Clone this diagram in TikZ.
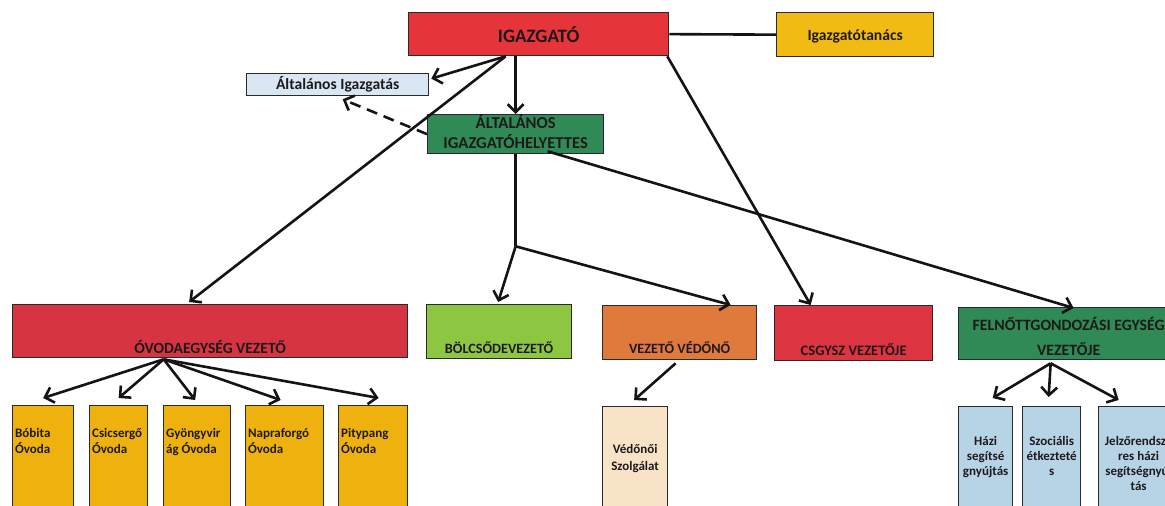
\documentclass[tikz,border=0pt]{standalone}
\usepackage{fontspec}
\setmainfont{Carlito}
\usetikzlibrary{arrows.meta,calc}
\definecolor{cRed}{HTML}{E5353A}
\definecolor{cRedB}{HTML}{D63442}
\definecolor{cRedC}{HTML}{DC3440}
\definecolor{cYel}{HTML}{F2BB14}
\definecolor{cYelB}{HTML}{EEB10E}
\definecolor{cPale}{HTML}{D9E6F4}
\definecolor{cGreen}{HTML}{2F8A55}
\definecolor{cLime}{HTML}{8DC641}
\definecolor{cOrange}{HTML}{E0793C}
\definecolor{cBeige}{HTML}{F9E3C6}
\definecolor{cBlue}{HTML}{B7D3E6}
\definecolor{cBorder}{HTML}{2A2A2A}
\definecolor{cText}{HTML}{1E1A1B}
% #1 height, #2 width, #3 top gap, #4 setup, #5 text
\newcommand\bt[5]{\parbox[c][#1pt][t]{#2pt}{\vspace*{#3pt}#4\strut #5}}
\tikzset{
  box/.style={draw=cBorder, line width=1.3pt, inner sep=0pt, anchor=north west, text=cText, font=\bfseries},
  conn/.style={line width=2.6pt, draw=black!92},
  arr/.style={conn, -{Straight Barb[length=8pt,width=16pt]}},
}
\begin{document}
\begin{tikzpicture}[x=1pt,y=-1pt]
\useasboundingbox (0,0) rectangle (1165,506);
\clip (0,0) rectangle (1165,506);
\fill[white] (0,0) rectangle (1165,506);

% top level
\node[box, fill=cRed] (ig) at (408,12) {\bt{43}{260}{14}{\centering\fontsize{19}{21.4}\selectfont}{IGAZGATÓ}};
\node[box, fill=cYel] (igt) at (776,12) {\bt{44}{157}{15}{\centering\fontsize{15.6}{18}\selectfont}{Igazgatótanács}};
\node[box, fill=cPale] (ai) at (246,73) {\bt{22}{182}{2.9}{\centering\fontsize{15.6}{18}\selectfont}{Általános Igazgatás}};
\node[box, fill=cGreen] (igh) at (427,114) {\bt{39}{176}{0}{\centering\fontsize{16.6}{20}\selectfont}{ÁLTALÁNOS\\IGAZGATÓHELYETTES}};

% second level
\node[box, fill=cRedB] (ov) at (12,304) {\bt{53}{395}{35.4}{\centering\fontsize{15.6}{18}\selectfont}{ÓVODAEGYSÉG VEZETŐ}};
\node[box, fill=cLime] (bol) at (426,304) {\bt{54}{145}{37.2}{\centering\fontsize{14.2}{17}\selectfont}{BÖLCSŐDEVEZETŐ}};
\node[box, fill=cOrange] (vv) at (602,305) {\bt{54}{154}{36.1}{\centering\fontsize{14.2}{17}\selectfont}{VEZETŐ VÉDŐNŐ}};
\node[box, fill=cRedC] (cs) at (774,305) {\bt{55}{158}{37.8}{\centering\fontsize{14.5}{17.4}\selectfont}{CSGYSZ VEZETŐJE}};
\node[box, fill=cGreen] (fel) at (958,307) {\bt{52}{220}{5}{\centering\fontsize{15.8}{25}\selectfont}{FELNŐTTGONDOZÁSI EGYSÉG\\VEZETŐJE}};

% third level
\node[box, fill=cYelB] (bob) at (12,405) {\bt{130}{61}{20.8}{\raggedright\leftskip=2.5pt\fontsize{13}{16}\selectfont}{Bóbita\\Óvoda}};
\node[box, fill=cYelB] (csi) at (89,405) {\bt{130}{58}{20.8}{\raggedright\leftskip=2.5pt\fontsize{13}{16}\selectfont}{Csicsergő\\Óvoda}};
\node[box, fill=cYelB] (gyo) at (163,405) {\bt{130}{67}{20.8}{\raggedright\leftskip=2.5pt\fontsize{13}{16}\selectfont}{Gyöngyvir\\ág Óvoda}};
\node[box, fill=cYelB] (nap) at (245,405) {\bt{130}{78}{20.8}{\raggedright\leftskip=2.5pt\fontsize{13}{16}\selectfont}{Napraforgó\\Óvoda}};
\node[box, fill=cYelB] (pit) at (338,405) {\bt{130}{69}{20.8}{\raggedright\leftskip=2.5pt\fontsize{13}{16}\selectfont}{Pitypang\\Óvoda}};
\node[box, fill=cBeige] (vsz) at (602,406) {\bt{130}{65}{35.1}{\centering\fontsize{13}{17}\selectfont}{Védőnői\\Szolgálat}};
\node[box, fill=cBlue] (haz) at (958,406) {\bt{130}{54}{28.5}{\centering\fontsize{13}{15}\selectfont}{Házi\\segítsé\\gnyújtás}};
\node[box, fill=cBlue] (szo) at (1022,406) {\bt{130}{58}{28.5}{\centering\fontsize{13}{15}\selectfont}{Szociális\\étkezteté\\s}};
\node[box, fill=cBlue] (jel) at (1098,406) {\bt{130}{80}{28.5}{\centering\fontsize{13}{15}\selectfont}{Jelzőrendsze\\res házi\\segítségnyúj\\tás}};

% connectors
\draw[conn] (ig.east) -- (igt.west);
\draw[arr] ($(ig.south)+(-33,0)$) -- ($(ai.east)+(2,-6)$);
\draw[arr] ($(ig.south)+(-33,0)$) -- ($(ov.north)+(-21,-2)$);
\draw[arr] (ig.south -| igh.north) -- (igh.north);
\draw[arr] ($(ig.south east)+(-2,0)$) -- ($(cs.north)+(-43,0)$);
\draw[conn, dash pattern=on 11pt off 7pt, -{Straight Barb[length=8pt,width=16pt]}] (igh.west) -- ($(ai.south)+(5,3)$);
\draw[arr] ($(igh.south)+(32,-3)$) -- ($(fel.north)+(5,1)$);
\coordinate (j) at ($(igh.south)+(0,92)$);
\draw[conn] (igh.south) -- (j);
\draw[arr] (j) -- ($(bol.north)+(-1,-2)$);
\draw[arr] (j) -- ($(vv.north)+(51,0)$);

\coordinate (ovs) at ($(ov.south)+(-46.5,1)$);
\draw[arr] (ovs) -- ($(bob.north)+(0,-7)$);
\draw[arr] (ovs) -- ($(csi.north)+(0,-7)$);
\draw[arr] (ovs) -- ($(gyo.north)+(-2,-5)$);
\draw[arr] (ovs) -- ($(nap.north)+(-4,-5)$);
\draw[arr] (ovs) -- ($(pit.north)+(5.5,-7)$);

\draw[arr] ($(vv.south)+(-4,3)$) -- ($(vsz.north)+(-1,-6)$);

\coordinate (fs) at ($(fel.south)+(-18,3)$);
\draw[arr] (fs) -- ($(haz.north)+(7,-8)$);
\draw[arr] (fs) -- ($(szo.north)+(-3,-9)$);
\draw[arr] (fs) -- ($(jel.north)+(-20,-6)$);
\end{tikzpicture}
\end{document}
